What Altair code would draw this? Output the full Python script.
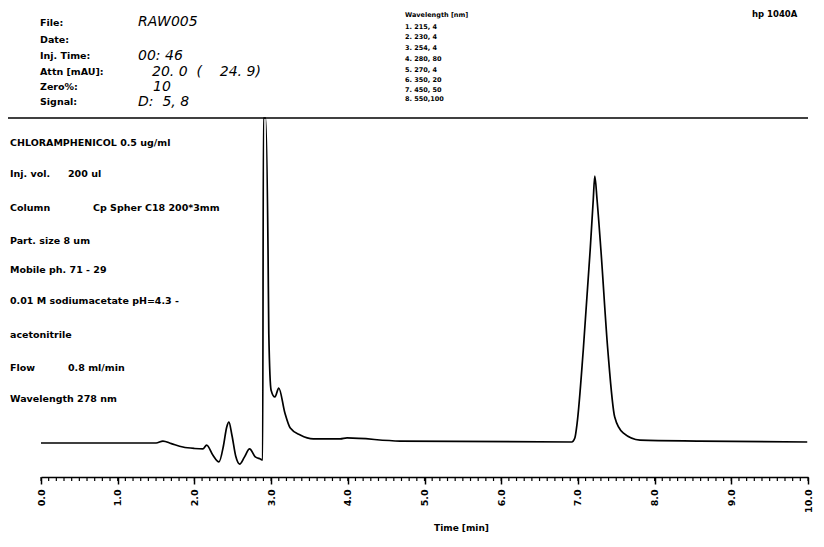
import altair as alt
import pandas as pd

# ---- chromatogram trace (time in min, signal in mAU)
time_min = [0.00, 1.50, 1.59, 1.70, 1.85, 2.00, 2.11, 2.16, 2.24, 2.32, 2.38, 2.42, 2.45,
            2.49, 2.54, 2.59, 2.65, 2.72, 2.79, 2.86, 2.89, 2.90, 2.93, 2.96, 2.97, 3.00,
            3.05, 3.10, 3.18, 3.25, 3.38, 3.55, 3.90, 3.99, 4.68, 6.92, 6.96, 6.99, 7.07,
            7.16, 7.20, 7.22, 7.25, 7.30, 7.39, 7.48, 7.59, 7.81, 8.59, 9.99]
signal_mau = [-0.06, -0.06, 0.06, -0.10, -0.31, -0.40, -0.43, -0.19, -0.80, -1.23, -0.20, 0.90, 1.23,
              0.40, -0.90, -1.36, -0.95, -0.43, -0.90, -1.05, -1.11, 20.0, 20.0, 11.85, 6.70, 3.20,
              2.78, 3.33, 1.79, 0.86, 0.43, 0.19, 0.19, 0.25, 0.06, 0.00, 0.25, 1.17, 5.68,
              11.85, 14.94, 16.42, 14.94, 11.85, 5.68, 1.54, 0.56, 0.12, 0.06, 0.00]

major_ticks = [0, 1, 2, 3, 4, 5, 6, 7, 8, 9, 10]
minor_ticks = [i / 10 for i in range(101)]

NB = "\u00a0"
# ---- texts
hdr_labels = ["File:", "Date:", "Inj. Time:", "Attn [mAU]:", "Zero%:", "Signal:"]
hdr_values = ["RAW005", "00: 46", f"20. 0{NB*2}({NB*4}24. 9)", "10", f"D: {NB}5, 8"]
wl_lines = ["Wavelength [nm]", "1. 215, 4", "2. 230, 4", "3. 254, 4", "4. 280, 80",
            "5. 270, 4", "6. 350, 20", "7. 450, 50", "8. 550,100"]
instrument = ["hp 1040A"]
cond_left = ["CHLORAMPHENICOL 0.5 ug/ml", "Inj. vol.", "Column", "Part. size 8 um",
             "Mobile ph. 71 - 29", "0.01 M sodiumacetate pH=4.3 -", "acetonitrile",
             "Flow", "Wavelength 278 nm"]
cond_right = ["200 ul", "Cp Spher C18 200*3mm", "0.8 ml/min"]

W, H = 767, 359
OX, OY = 41, 118  # page position of plot origin


def text_layer(texts, xs, ys, size, weight="bold", style="normal", font="DejaVu Sans"):
    d = pd.DataFrame({"label": texts,
                      "px": [x - OX for x in xs],
                      "py": [y - OY for y in ys]})
    return alt.Chart(d).mark_text(
        align="left", baseline="middle", font=font, fontSize=size,
        fontWeight=weight, fontStyle=style, color="black"
    ).encode(
        x=alt.X("px:Q", scale=None, axis=None),
        y=alt.Y("py:Q", scale=None, axis=None),
        text="label:N",
    )


trace_df = pd.DataFrame({"t": time_min, "v": signal_mau})
xscale = alt.Scale(domain=[0, 10], nice=False, zero=False)

trace = alt.Chart(trace_df).mark_line(
    color="black", strokeWidth=1.7, interpolate="monotone"
).encode(
    x=alt.X("t:Q", scale=xscale,
            axis=alt.Axis(values=major_ticks, format=".1f", labelAngle=270,
                          tickSize=7, tickWidth=1.5, tickColor="black",
                          domainWidth=1.6, domainColor="black", grid=False,
                          labelFont="DejaVu Sans", labelFontWeight="bold",
                          labelFontSize=9.5, labelColor="black", labelPadding=5,
                          title="Time [min]", titleFont="DejaVu Sans",
                          titleFontWeight="bold", titleFontSize=9,
                          titleColor="black", titleX=420, titleY=50,
                          titleBaseline="middle")),
    y=alt.Y("v:Q", scale=alt.Scale(domain=[-2.16, 20], nice=False, zero=False), axis=None),
)

minor_df = pd.DataFrame({"t": minor_ticks})
minor = alt.Chart(minor_df).mark_rule(color="black", strokeWidth=1.2).encode(
    x=alt.X("t:Q", scale=xscale, title="Time [min]"),
    y=alt.value(H),
    y2=alt.value(H + 4),
)

top_line = alt.Chart(pd.DataFrame({"a": [0]})).mark_rule(
    color="black", strokeWidth=1.5
).encode(x=alt.value(-OX), x2=alt.value(W), y=alt.value(0))

layers = [
    top_line,
    trace,
    minor,
    text_layer(hdr_labels, [40] * 6, [23, 40, 56, 72, 87, 102], 9.5),
    text_layer(hdr_values, [138, 138, 152, 153, 138], [22, 56, 72, 87, 102], 14,
               weight="normal", style="italic"),
    text_layer(wl_lines, [405] * 9, [15, 27, 37, 48, 59, 70, 80, 90, 99], 6.5),
    text_layer(instrument, [752], [14], 8.5),
    text_layer(cond_left, [10] * 9, [143, 174, 208, 241, 270, 301, 335, 368, 399], 9.5),
    text_layer(cond_right, [68, 93, 68], [174, 208, 368], 9.5),
]

chart = alt.layer(*layers).properties(
    width=W, height=H,
    autosize=alt.AutoSizeParams(type="none"),
    padding={"left": OX - 8, "top": OY - 8, "right": 8, "bottom": 62},
    background="white",
).configure_view(stroke=None)

chart.save("out.html", embed_options={"renderer": "svg", "actions": False})
